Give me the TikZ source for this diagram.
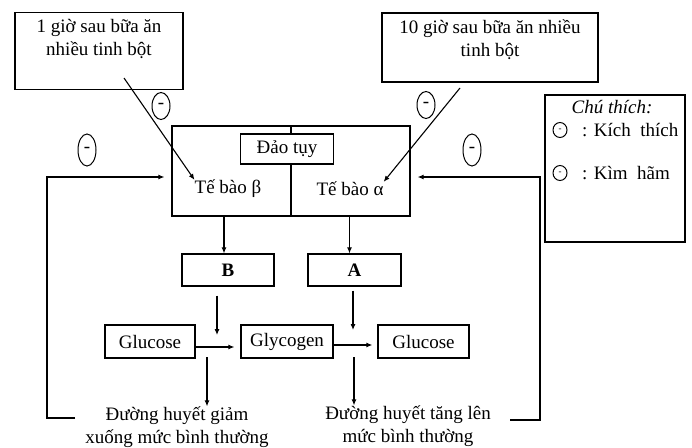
\documentclass[tikz,border=0pt]{standalone}
\usepackage{fontspec}
\setmainfont{Liberation Serif}
\usetikzlibrary{arrows.meta,shapes.geometric}

\begin{document}
\begin{tikzpicture}[x=1pt,y=-1pt,
    every node/.style={font=\fontsize{19}{23}\selectfont},
    hop/.style={draw, line width=1.2pt, inner sep=0pt},
    chu/.style={align=center, inner sep=0pt},
    dau/.style={draw, ellipse, line width=1pt, minimum width=18pt, minimum height=27pt, inner sep=0pt},
    mui/.style={-{Latex[length=6pt,width=5pt]}, line width=1.1pt}]
    \useasboundingbox (0,0) rectangle (692,447);

    % hai hop tren
    \node[hop, minimum width=168pt, minimum height=77pt] (sau1) at (99,51) {};
    \node[chu, anchor=north] (sau1chu) at ([yshift=-7pt]sau1.north) {1 giờ sau bữa ăn\\ nhiều tinh bột};
    \node[hop, minimum width=216pt, minimum height=69pt] (sau10) at (490,47.5) {};
    \node[chu, anchor=north] (sau10chu) at ([yshift=-7pt]sau10.north) {10 giờ sau bữa ăn nhiều\\ tinh bột};

    % dao tuy
    \node[hop, minimum width=238pt, minimum height=90pt] (dao) at (291,171) {};
    \draw[line width=1.2pt] (dao.north) -- (dao.south);
    \node[hop, fill=white, minimum width=93pt, minimum height=30pt] (daotuy) at (287,149) {Đảo tụy};
    \node[chu] (beta) at (228,189) {Tế bào β};
    \node[chu] (alpha) at (350,189) {Tế bào α};

    \node[hop, minimum width=92pt, minimum height=32pt, font=\fontsize{19}{23}\selectfont\bfseries] (B) at (228,270) {B};
    \node[hop, minimum width=93pt, minimum height=32pt, font=\fontsize{19}{23}\selectfont\bfseries] (A) at (354.5,270) {A};

    \node[hop, minimum width=90pt, minimum height=33pt] (gluL) at (150,341.5) {Glucose};
    \node[hop, minimum width=92pt, minimum height=33pt] (glyc) at (287,341.5) {Glycogen};
    \node[hop, minimum width=91pt, minimum height=33pt] (gluR) at (423.5,341.5) {Glucose};

    \node[chu] (giam) at (177,427) {Đường huyết giảm\\ xuống mức bình thường};
    \node[chu] (tang) at (408,426) {Đường huyết tăng lên\\ mức bình thường};

    % chu thich
    \node[hop, minimum width=140pt, minimum height=147pt] (chuthich) at (615,168.5) {};
    \node[chu, font=\fontsize{19}{23}\selectfont\itshape] (ctieude) at (612,107) {Chú thích:};
    \node[dau, minimum width=14pt, minimum height=15pt, font=\small] (kt) at (560,130) {-};
    \node[chu, anchor=west] (ktchu) at (582,130) {: Kích\ \ thích};
    \node[dau, minimum width=14pt, minimum height=15pt, font=\small] (kh) at (560,173) {-};
    \node[chu, anchor=west] (khchu) at (582,173) {: Kìm\ \ hãm};

    % dau tac dong
    \node[dau] (u1) at (161,106) {-};
    \node[dau] (u2) at (426,105) {-};
    \node[dau, minimum height=32pt] (u3) at (87,150) {-};
    \node[dau, minimum height=32pt] (u4) at (472,150) {-};

    % mui ten
    \coordinate (s1) at (124,78);
    \coordinate (s10) at (460,88);
    \draw[mui] (s1) -- (beta.north west);
    \draw[mui] (s10) -- (alpha.north east);

    \coordinate (vL) at (75,418);
    \coordinate (vR) at (510,420);
    \draw[mui, shorten >=7pt] (vL) -- ++(-28,0) |- ([yshift=-6pt]dao.west);
    \draw[mui, shorten >=7pt] (vR) -- ++(30,0) |- ([yshift=-6pt]dao.east);

    \draw[mui] ([xshift=-4pt]B.north |- dao.south) -- ([xshift=-4pt]B.north);
    \draw[mui] ([xshift=-5pt]A.north |- dao.south) -- ([xshift=-5pt]A.north);

    \coordinate (n1) at (217,347);
    \coordinate (n2) at (353,345);
    \draw[mui, shorten <=9pt, shorten >=12pt] (n1 |- B.south) -- (n1);
    \draw[mui, shorten <=4pt, shorten >=15pt] (n2 |- A.south) -- (n2);
    \draw[mui, shorten >=6pt] ([yshift=-5.5pt]gluL.east) -- ([yshift=-5.5pt]glyc.west);
    \draw[mui, line width=1.5pt, shorten >=5pt] ([yshift=-3.5pt]glyc.east) -- ([yshift=-3.5pt]gluR.west);

    \coordinate (r1) at (207,347);
    \coordinate (r2) at (354,345);
    \draw[mui, shorten <=10pt] (r1) -- (r1 |- giam.north);
    \draw[mui, shorten <=12pt] (r2) -- (r2 |- tang.north);
\end{tikzpicture}
\end{document}
